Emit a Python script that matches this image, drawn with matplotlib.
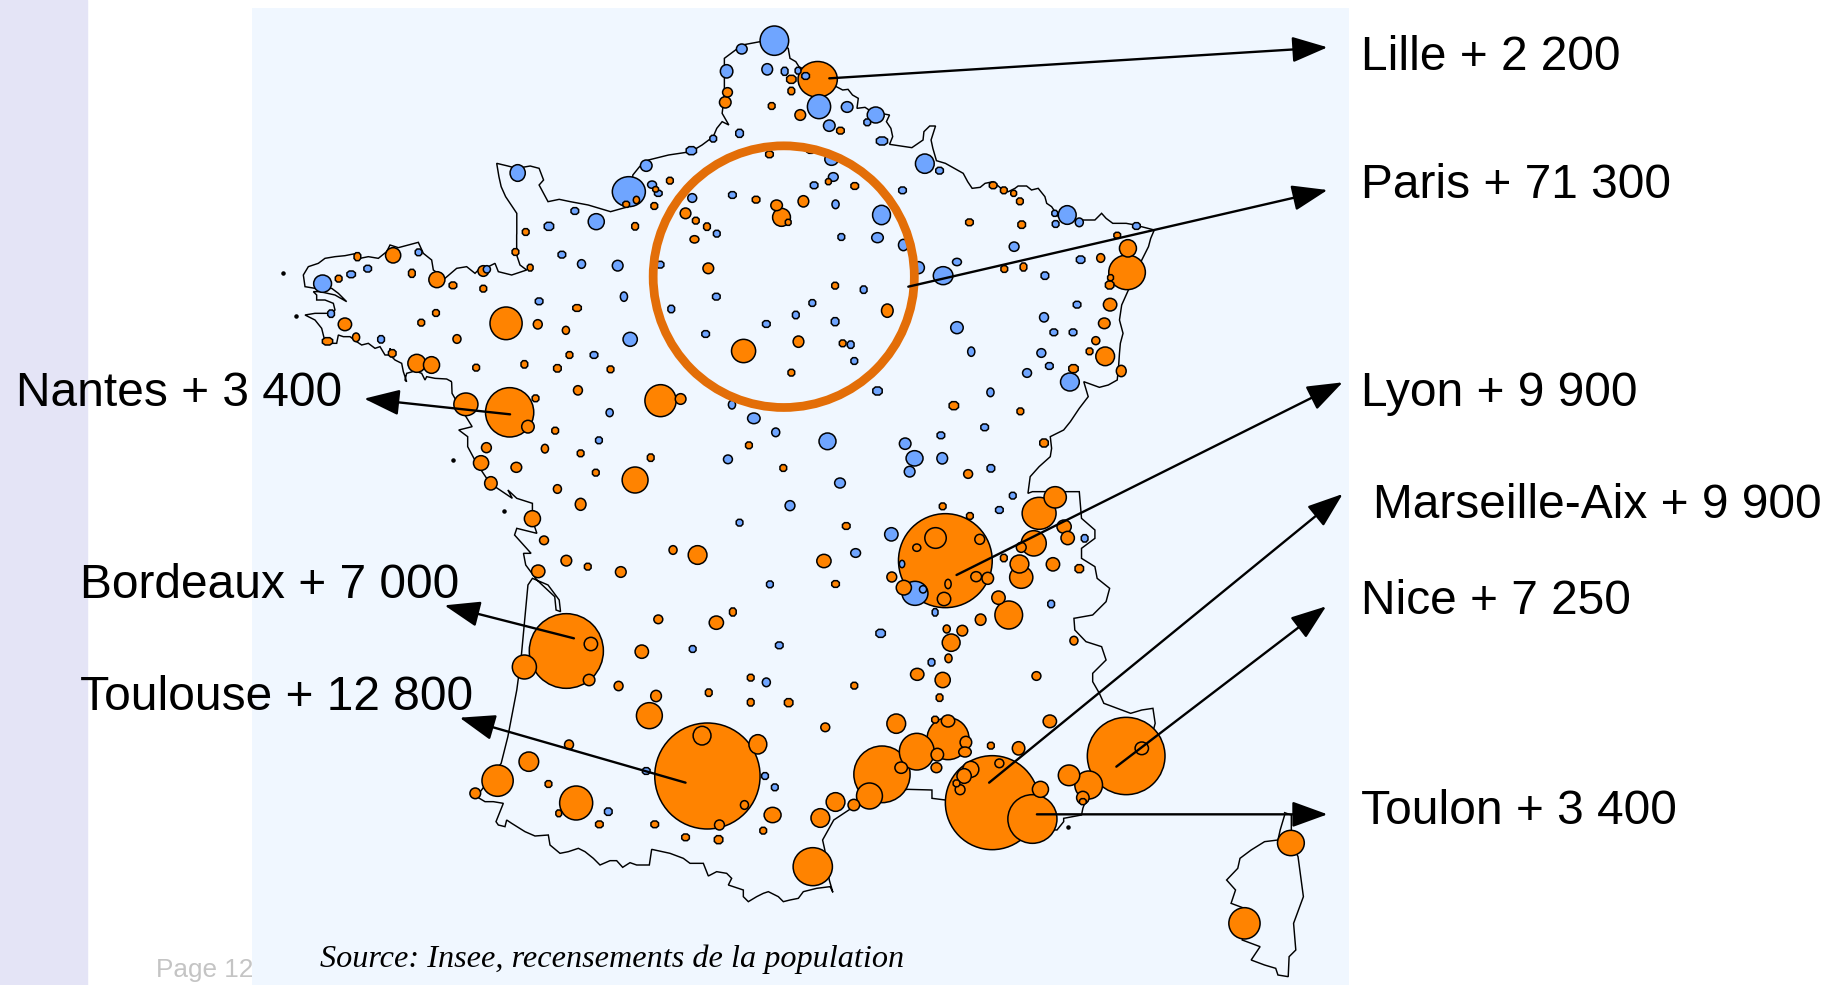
# Map of population gains by urban area, France.
import matplotlib
matplotlib.use("Agg")
import matplotlib.pyplot as plt
import numpy as np
from matplotlib.patches import Ellipse, Polygon, Rectangle

# Map units: x = (px - 240) * 2.24, y = px * 3. Tuples are x, y, width, height.
orangeNorth = [
    (1294, 238, 88, 107), (1235, 238, 18, 20), (1235, 273, 12, 18), (1092, 277, 22, 28),
    (1087, 307, 26, 34), (1191, 318, 12, 16), (1255, 345, 24, 32), (1345, 392, 14, 16),
    (1186, 463, 14, 16), (1318, 545, 10, 14), (1377, 558, 14, 16), (963, 542, 12, 16),
    (931, 568, 10, 12), (888, 600, 14, 22), (865, 613, 12, 14), (928, 618, 12, 16),
    (1156, 599, 14, 16), (1202, 616, 26, 32), (1262, 604, 24, 34), (998, 640, 24, 32),
    (1213, 652, 40, 54), (1228, 667, 10, 14), (1021, 662, 12, 16), (885, 679, 12, 18),
    (1046, 680, 12, 18), (1018, 718, 20, 22), (343, 766, 34, 46), (263, 770, 12, 20),
    (640, 696, 12, 16), (617, 756, 12, 16), (221, 836, 12, 16), (385, 820, 12, 20),
    (441, 839, 36, 48), (477, 856, 14, 16), (545, 813, 24, 32), (650, 803, 10, 16),
    (545, 866, 12, 16), (1049, 805, 24, 32), (1333, 857, 12, 16), (1450, 932, 26, 40),
    (755, 924, 16, 16), (439, 939, 12, 16), (406, 968, 12, 16), (596, 970, 72, 98),
    (235, 973, 30, 38), (667, 973, 20, 28), (730, 991, 16, 24), (486, 1017, 18, 26),
    (260, 1012, 16, 26), (196, 1024, 20, 18), (1251, 1025, 24, 34), (1128, 1053, 54, 70),
    (1350, 1030, 12, 16), (738, 1065, 12, 16), (341, 1060, 14, 18), (396, 1090, 40, 54),
    (429, 1095, 36, 50), (529, 1103, 12, 16), (637, 1093, 12, 18), (711, 1105, 14, 18),
    (830, 1108, 12, 16), (1235, 1118, 12, 16), (757, 1171, 20, 28), (942, 1202, 70, 96),
    (987, 1197, 24, 32), (662, 1195, 12, 16), (506, 1213, 54, 68), (604, 1237, 108, 148),
    (645, 1280, 28, 38), (706, 1292, 12, 16), (683, 1346, 16, 26), (552, 1343, 22, 30),
    (1140, 1336, 12, 16), (763, 1360, 12, 16), (920, 1373, 12, 18), (540, 1389, 34, 44),
    (619, 1402, 24, 30), (1217, 1404, 12, 16), (797, 1418, 12, 16), (885, 1440, 58, 78),
    (562, 1450, 28, 40), (711, 1467, 18, 26),
]
orangeEast = [
    (1687, 556, 14, 16), (1711, 571, 12, 16), (1733, 580, 10, 14), (1747, 604, 12, 16),
    (1634, 667, 14, 16), (1751, 674, 14, 18), (1965, 706, 12, 14), (1989, 745, 38, 52),
    (1987, 817, 82, 104), (1950, 833, 10, 14), (1948, 855, 16, 20), (1928, 774, 18, 26),
    (1712, 807, 12, 16), (1755, 801, 12, 20), (1949, 914, 30, 38), (1936, 970, 26, 32),
    (1917, 1022, 18, 24), (1903, 1054, 12, 16), (1938, 1069, 42, 56), (1974, 1113, 22, 34),
    (1867, 1106, 18, 20), (1599, 1217, 18, 20), (1748, 1234, 12, 16), (1801, 1329, 16, 20),
    (1631, 1422, 20, 26),
]
orangeSouthWest = [
    (763, 1513, 24, 36), (655, 1556, 36, 48), (681, 1621, 20, 26), (970, 1650, 18, 26),
    (1025, 1665, 42, 56), (1308, 1683, 32, 40), (731, 1682, 24, 32), (779, 1700, 12, 16),
    (853, 1716, 24, 32), (668, 1714, 30, 38), (1334, 1752, 14, 16), (1104, 1836, 12, 20),
    (937, 1858, 20, 26), (1067, 1868, 32, 40), (731, 1953, 166, 224), (786, 1932, 30, 40),
    (782, 2040, 26, 34), (637, 2001, 54, 72), (900, 1955, 30, 40), (1144, 2033, 12, 16),
    (1517, 2023, 30, 36), (848, 2058, 20, 28), (1050, 2078, 12, 18), (1376, 2057, 12, 16),
    (932, 2088, 24, 34), (1144, 2107, 12, 18), (1229, 2108, 16, 20), (917, 2147, 58, 78),
    (1311, 2182, 20, 26), (1470, 2171, 42, 58), (1047, 2328, 236, 318), (1035, 2207, 40, 56),
    (1160, 2233, 40, 58), (737, 2234, 20, 28), (647, 2285, 44, 58), (577, 2342, 70, 94),
    (527, 2380, 24, 32), (691, 2352, 12, 16), (753, 2409, 74, 102), (714, 2440, 10, 16),
    (805, 2473, 14, 16), (929, 2473, 14, 16), (1130, 2415, 18, 26), (1074, 2475, 22, 30),
    (1193, 2445, 38, 46), (1172, 2492, 12, 16), (998, 2512, 14, 16), (1072, 2519, 16, 20),
    (1300, 2454, 42, 56), (1334, 2406, 42, 56), (1375, 2415, 26, 34), (1283, 2600, 88, 114),
]
orangeSouthEast = [
    (1580, 1682, 210, 282), (1558, 1614, 48, 62), (1516, 1643, 18, 22), (1657, 1618, 22, 30),
    (1460, 1731, 22, 30), (1487, 1763, 34, 44), (1586, 1752, 14, 28), (1649, 1730, 24, 30),
    (1675, 1735, 26, 36), (1577, 1797, 30, 40), (1574, 1519, 12, 16), (1635, 1548, 12, 16),
    (1358, 1578, 14, 16), (1826, 1492, 50, 64), (1790, 1540, 76, 96), (1846, 1580, 32, 40),
    (1854, 1614, 30, 40), (1778, 1630, 56, 76), (1750, 1642, 22, 30), (1746, 1692, 42, 54),
    (1750, 1732, 52, 66), (1711, 1674, 12, 18), (1821, 1693, 30, 40), (1880, 1706, 16, 20),
    (1699, 1793, 30, 40), (1722, 1845, 62, 84), (1659, 1859, 24, 34), (1583, 1887, 16, 24),
    (1618, 1892, 24, 32), (1593, 1928, 40, 52), (1868, 1922, 18, 26), (1587, 1975, 16, 26),
    (1574, 2040, 34, 46), (1784, 2028, 20, 26), (1567, 2093, 12, 18), (1814, 2164, 30, 38),
    (1586, 2216, 94, 126), (1586, 2163, 30, 36), (1557, 2159, 12, 16), (1516, 2255, 78, 110),
    (1438, 2323, 126, 170), (1626, 2227, 26, 36), (1624, 2256, 28, 30), (1562, 2264, 28, 38),
    (1560, 2303, 24, 30), (1481, 2303, 28, 34), (1410, 2388, 58, 78), (1682, 2237, 12, 16),
    (1744, 2245, 28, 40), (1685, 2408, 210, 282), (1637, 2308, 36, 48), (1622, 2328, 32, 44),
    (1701, 2290, 20, 26), (1605, 2350, 12, 16), (1613, 2369, 22, 30), (1793, 2368, 36, 48),
    (1775, 2457, 110, 146), (1857, 2326, 48, 62), (1901, 2355, 62, 84), (1888, 2393, 28, 38),
    (1888, 2405, 12, 14), (1985, 2268, 174, 232), (2020, 2245, 30, 38), (2354, 2529, 60, 76),
    (2250, 2770, 70, 94),
]
blueNorth = [
    (1197, 122, 64, 88), (1124, 147, 24, 30), (1090, 214, 28, 40), (1181, 208, 24, 34),
    (1220, 214, 12, 20), (1250, 212, 10, 16), (1267, 228, 14, 16), (1297, 320, 52, 72),
    (1360, 321, 26, 32), (1424, 345, 38, 48), (1405, 367, 12, 16), (1320, 377, 26, 34),
    (1119, 400, 14, 20), (1060, 416, 12, 16), (1438, 423, 22, 20), (1534, 491, 42, 58),
    (1325, 478, 30, 36), (1329, 531, 22, 26), (1286, 556, 14, 16), (1278, 453, 14, 10),
    (1011, 452, 20, 20), (910, 497, 26, 34), (622, 519, 34, 50), (871, 575, 74, 90),
    (923, 554, 20, 22), (937, 580, 14, 14), (1013, 594, 20, 26), (1103, 585, 14, 16),
    (1334, 613, 16, 26), (1437, 645, 40, 58), (1068, 701, 12, 16), (750, 633, 14, 16),
    (798, 665, 36, 48), (692, 679, 18, 20), (1428, 713, 26, 30), (1347, 711, 12, 16),
    (1486, 735, 22, 34), (721, 764, 14, 16), (765, 792, 18, 26), (846, 797, 24, 32),
    (941, 794, 14, 16), (400, 757, 12, 16), (286, 806, 14, 16), (249, 823, 16, 16),
    (553, 808, 16, 22), (185, 851, 40, 52), (860, 890, 16, 28), (1067, 890, 14, 16),
    (1397, 869, 12, 18), (670, 904, 14, 16), (966, 927, 12, 18), (1282, 909, 12, 16),
    (1245, 945, 12, 18), (1179, 972, 14, 16), (1333, 965, 14, 20), (204, 941, 12, 18),
    (316, 1018, 12, 18), (874, 1018, 32, 42), (1043, 1002, 14, 16), (1368, 1034, 12, 18),
    (793, 1065, 14, 16), (1376, 1083, 12, 16), (1428, 1173, 18, 20), (1102, 1214, 16, 26),
    (828, 1238, 16, 24), (1151, 1255, 28, 32), (1200, 1297, 18, 26), (804, 1321, 12, 16),
    (1316, 1324, 38, 50), (1490, 1331, 26, 34), (1093, 1378, 20, 26), (1511, 1375, 38, 46),
    (1500, 1415, 24, 32), (1344, 1449, 24, 30),
]
blueEast = [
    (1520, 803, 26, 36), (1575, 827, 44, 54), (1606, 786, 20, 22), (1567, 512, 14, 16),
    (1484, 571, 14, 16), (1734, 740, 22, 28), (1853, 645, 40, 56), (1827, 672, 12, 16),
    (1880, 667, 18, 26), (2008, 678, 14, 16), (1825, 640, 10, 14), (1883, 779, 16, 18),
    (1803, 827, 14, 18), (1875, 914, 14, 16), (1801, 952, 20, 28), (1606, 983, 28, 36),
    (1823, 997, 14, 16), (1866, 997, 14, 16), (1638, 1055, 16, 28), (1795, 1059, 20, 26),
    (1813, 1098, 14, 16), (1763, 1119, 20, 26), (1859, 1146, 42, 54), (1681, 1177, 16, 26),
    (1668, 1282, 14, 16), (1570, 1306, 14, 16), (1573, 1375, 24, 34), (1682, 1405, 14, 18),
]
blueSouth = [
    (1232, 1517, 22, 30), (1119, 1568, 12, 16), (1459, 1603, 30, 40), (1379, 1659, 22, 26),
    (1187, 1753, 12, 16), (1557, 1837, 10, 18), (1435, 1900, 18, 20), (1014, 1947, 12, 16),
    (1208, 1936, 14, 16), (1179, 2047, 18, 26), (1549, 1987, 12, 18), (1731, 1487, 12, 16),
    (1701, 1530, 14, 16), (1892, 1615, 12, 18), (1817, 1812, 12, 18), (1483, 1692, 12, 22),
    (1512, 1780, 58, 72), (1530, 1768, 16, 22), (1176, 2328, 12, 16), (1198, 2362, 12, 16),
    (825, 2435, 14, 18), (910, 2313, 14, 16),
]

# Outline of the mainland in pieces, clockwise from the northern tip.
northBorder = [
    (1197, 122), (1228, 145), (1232, 175), (1245, 185), (1252, 200), (1300, 235), (1350, 270), (1362, 268),
    (1372, 285), (1385, 295), (1382, 325), (1400, 322), (1415, 335), (1455, 345), (1448, 365), (1458, 385),
    (1462, 410), (1455, 433), (1480, 438), (1505, 443), (1530, 420), (1532, 395), (1545, 378), (1558, 378),
    (1548, 420), (1552, 445), (1560, 482), (1580, 490), (1600, 505), (1620, 520), (1630, 545), (1640, 565),
    (1658, 562), (1669, 550), (1687, 545), (1702, 562), (1721, 575), (1736, 565), (1743, 558), (1762, 558),
    (1773, 570), (1788, 565), (1803, 590), (1807, 610), (1818, 620), (1833, 650), (1850, 660),
]
eastBorder = [
    (1915, 660), (1930, 640), (1940, 655), (1955, 670), (1985, 670), (2005, 675), (2048, 690), (2040, 715),
    (2035, 740), (2020, 780), (1990, 870), (1975, 915), (1970, 960), (1978, 1000), (1972, 1030), (1970, 1060),
    (1968, 1100), (1965, 1140), (1945, 1155), (1925, 1162), (1890, 1145), (1900, 1190), (1880, 1225), (1860, 1265),
    (1845, 1290), (1815, 1310), (1818, 1345), (1815, 1370), (1790, 1400), (1770, 1430), (1765, 1480), (1775, 1475),
    (1880, 1475), (1885, 1555), (1915, 1590), (1915, 1615), (1885, 1645), (1885, 1675), (1915, 1700), (1920, 1735),
    (1948, 1765), (1940, 1805), (1910, 1845), (1868, 1855), (1870, 1890), (1895, 1925), (1930, 1940), (1940, 1980),
    (1910, 2020), (1910, 2045), (1925, 2080), (1935, 2110), (1965, 2125), (1995, 2140), (2020, 2130), (2045, 2125),
    (2050, 2170), (2040, 2220), (1900, 2380), (1888, 2425), (1885, 2445), (1845, 2455), (1845, 2465), (1830, 2490),
    (1700, 2480), (1580, 2400), (1550, 2395), (1550, 2370), (1495, 2368), (1420, 2390), (1375, 2420), (1330, 2460),
    (1305, 2520), (1310, 2550), (1320, 2640), (1328, 2677), (1322, 2660),
]
# traced at 3x from px origin (470, 790)
pyreneesX = [
    1080, 1040, 1000, 985, 960, 940, 925, 895, 880, 860, 835, 820, 820, 790, 775, 785, 770, 740, 715, 700,
    660, 640, 600, 545, 538, 500, 480, 458, 440, 420, 390, 370, 345, 325, 295, 270, 240, 235, 195, 165,
    125, 110, 105, 85, 78, 100, 70, 45, 20,
]
pyreneesY = [
    290, 295, 305, 325, 330, 335, 320, 305, 310, 320, 335, 320, 300, 290, 285, 265, 250, 245, 258, 220,
    220, 205, 190, 178, 225, 225, 218, 232, 212, 212, 225, 205, 185, 175, 185, 190, 165, 135, 138, 125,
    100, 90, 110, 105, 95, 40, 35, 35, 20,
]
atlanticCoast = [
    (585, 2290), (600, 2210), (620, 2070), (630, 1970), (645, 1755), (655, 1735), (690, 1755), (715, 1800),
    (718, 1835), (708, 1830), (705, 1790), (665, 1740), (640, 1695), (635, 1660), (652, 1660), (615, 1605),
    (620, 1585), (665, 1600), (655, 1560), (655, 1510), (620, 1495), (600, 1470), (610, 1495), (560, 1450),
    (530, 1390), (510, 1340), (510, 1310), (490, 1290), (520, 1280), (490, 1215), (475, 1180), (474, 1145),
]
# traced at 3x from px origin (275, 235)
brittanyX = [
    530, 515, 480, 455, 450, 440, 420, 395, 390, 395, 385, 380, 360, 350, 345, 350, 330, 315, 300, 280,
    260, 245, 225, 205, 190, 185, 165, 150, 140, 120, 100, 90, 120, 165, 180, 175, 150, 125, 125, 115,
    135, 180, 215, 190, 170, 120, 90, 85, 100, 130, 150, 180, 210, 245, 255, 280, 310, 335, 345, 370,
    400, 430, 445, 470, 475, 510, 545, 575, 600, 620, 640, 660, 670, 710, 740, 755, 735, 725, 725,
]
brittanyY = [
    440, 432, 430, 425, 435, 415, 408, 415, 435, 440, 410, 385, 375, 365, 340, 360, 360, 335, 340, 325,
    330, 320, 305, 305, 300, 325, 325, 320, 280, 255, 245, 240, 235, 235, 225, 205, 195, 195, 180, 170,
    170, 180, 200, 175, 160, 160, 155, 120, 95, 85, 70, 65, 62, 55, 70, 65, 70, 50, 30, 38,
    30, 22, 55, 75, 105, 130, 100, 95, 115, 95, 95, 85, 110, 120, 110, 105, 90, 60, 0,
]
channelCoast = [
    (620, 700), (620, 640), (605, 610), (595, 590), (585, 560), (580, 530), (575, 490), (600, 498), (620, 505),
    (650, 498), (670, 505), (680, 540), (670, 555), (680, 580), (690, 605), (715, 598), (740, 605), (780, 615),
    (830, 635), (870, 620), (880, 525), (895, 500), (915, 480), (960, 465), (1010, 455), (1035, 435), (1060, 410),
    (1068, 385), (1080, 365), (1095, 375), (1080, 340), (1085, 285), (1085, 230), (1085, 175), (1105, 155),
    (1125, 135), (1165, 125), (1197, 122),
]
corsica = [
    (2340, 2445), (2330, 2490), (2325, 2520), (2295, 2525), (2265, 2550), (2240, 2575), (2235, 2605), (2210, 2640),
    (2230, 2670), (2220, 2710), (2260, 2730), (2250, 2780), (2245, 2820), (2285, 2840), (2265, 2880), (2295, 2895),
    (2320, 2905), (2325, 2925), (2348, 2930), (2350, 2870), (2365, 2850), (2360, 2770), (2382, 2690), (2370, 2570),
    (2355, 2530), (2355, 2445), (2340, 2438),
]
islandX = [97, 125, 478, 592, 1855]
islandY = [820, 947, 1380, 1533, 2480]

arrowStarts = [(1320, 235), (1497, 860), (1605, 1725), (1678, 2348), (1963, 2300),
               (1785, 2443), (605, 1243), (748, 1915), (998, 2348)]
arrowTips = [(2436, 142), (2436, 570), (2470, 1147), (2470, 1482), (2433, 1819),
             (2436, 2443), (278, 1196), (458, 1816), (492, 2153)]
labelTexts = ["Lille + 2 200", "Paris + 71 300", "Lyon + 9 900", "Marseille-Aix + 9 900", "Nice + 7 250",
              "Toulon + 3 400", "Nantes + 3 400", "Bordeaux + 7 000", "Toulouse + 12 800"]
labelX = [1361, 1361, 1361, 1373, 1361, 1361, 16, 80, 80]
labelY = [58, 186, 394, 506, 601, 811, 394, 586, 698]

WIDTH, HEIGHT = 1843, 985
ORANGE = "#FF8300"
BLUE = "#6FA5FF"
OCTAGON = np.array([(-1, -0.45), (-0.45, -1), (0.45, -1), (1, -0.45), (1, 0.45), (0.45, 1), (-0.45, 1), (-1, 0.45)])


def tracedToMap(xs, ys, originX, originY):
    # crops were read at 3x, map units are 2.24 and 3 per px
    x = (originX - 240 + np.array(xs) / 3) * 2.24
    y = originY * 3 + np.array(ys)
    return list(zip(x, y))


mainland = (northBorder + eastBorder + tracedToMap(pyreneesX, pyreneesY, 470, 790) + atlanticCoast
            + tracedToMap(brittanyX, brittanyY, 275, 235) + channelCoast)

fig = plt.figure(figsize=(WIDTH / 100, HEIGHT / 100), dpi=100, facecolor="white")
ax = fig.add_axes([0, 0, 1, 1])
ax.set_xlim(-240 * 2.24, (WIDTH - 240) * 2.24)
ax.set_ylim(HEIGHT * 3, 0)
ax.axis("off")

fig.add_artist(Rectangle((0, 0), 87 / WIDTH, 1, transform=fig.transFigure, color="#E4E4F6", zorder=-2))
fig.text(156 / WIDTH, 1 - 970 / HEIGHT, "Page 12", color="#C4C4C4", fontsize=18.8,
         family="Liberation Sans", va="center", zorder=-1)
ax.add_patch(Rectangle((27, 24), 2458, 2931, facecolor="#F0F7FF", edgecolor="none", zorder=0))

ax.plot(*zip(*mainland), color="black", lw=1.05, zorder=1, solid_joinstyle="miter")
ax.plot(*zip(*corsica), color="black", lw=1.05, zorder=1, solid_joinstyle="miter")
ax.scatter(islandX, islandY, s=5, color="black", zorder=1)

# biggest circles first so the small ones stay visible on top
circles = [(c, ORANGE) for c in orangeNorth + orangeEast + orangeSouthWest + orangeSouthEast]
circles += [(c, BLUE) for c in blueNorth + blueEast + blueSouth]
circles.sort(key=lambda item: -item[0][2] * item[0][3])
for index, ((x, y, w, h), color) in enumerate(circles):
    zorder = 2 + index * 0.001
    if h <= 20:
        # the smallest symbols are blocky in the source, and drawn a touch larger
        corners = OCTAGON * ((w + 3) / 2, (h + 4) / 2) + (x, y)
        ax.add_patch(Polygon(corners, facecolor=color, edgecolor="black", lw=1.1, zorder=zorder))
    else:
        ax.add_patch(Ellipse((x, y), w, h, facecolor=color, edgecolor="black", lw=1.1, zorder=zorder))

# Paris region ring
ax.add_patch(Ellipse((1218, 830), 585, 785, facecolor="none", edgecolor="#E36E08", lw=6.3, zorder=3))

for start, tip in zip(arrowStarts, arrowTips):
    ax.annotate("", xy=tip, xytext=start, zorder=4,
                arrowprops=dict(arrowstyle="-|>,head_length=22,head_width=8", mutation_scale=1,
                                color="black", lw=1.7, shrinkA=0, shrinkB=0))

for text, x, y in zip(labelTexts, labelX, labelY):
    fig.text(x / WIDTH, 1 - y / HEIGHT, text, color="black", fontsize=34.5,
             family="Liberation Sans", va="center", zorder=5)

fig.text(320 / WIDTH, 1 - 959 / HEIGHT, "Source: Insee, recensements de la population", color="black",
         fontsize=23.2, family="Liberation Serif", style="italic", va="center", zorder=5)

fig.savefig("out.png", dpi=100)
